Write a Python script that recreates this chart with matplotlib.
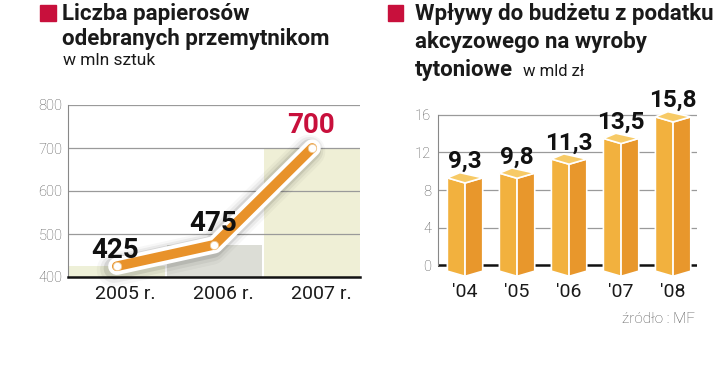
import numpy as np
import matplotlib
matplotlib.use("Agg")
import matplotlib.pyplot as plt
import matplotlib.patheffects as pe

plt.rcParams['font.family'] = ['Roboto', 'DejaVu Sans']

# left chart: cigarettes seized from smugglers (mln pcs)
years = ['2005 r.', '2006 r.', '2007 r.']
seized = [425, 475, 700]
left_ticks = [400, 500, 600, 700, 800]

# right chart: excise revenue from tobacco (bln zl)
bar_years = ["'04", "'05", "'06", "'07", "'08"]
revenue = [9.3, 9.8, 11.3, 13.5, 15.8]
right_ticks = [0, 4, 8, 12, 16]

RED = '#c8103c'
ORANGE = '#e8922a'

fig = plt.figure(figsize=(7.2, 3.84), dpi=100)

# ---------- left chart ----------
ax = fig.add_axes([68 / 720, 1 - 277 / 384, 292 / 720, 172 / 384])
x = np.arange(len(years))
band_colors = ['#eef0d8', '#dcddd6', '#efefd6']
ax.bar(x, np.array(seized) - 400, bottom=400, width=0.98, color=band_colors, zorder=1)
for t in left_ticks[1:]:
    ax.axhline(t, color='#9a9a9a', lw=0.9, zorder=2)
ax.set_xlim(-0.5, 2.49)
ax.set_ylim(400, 800)
ax.set_yticks(left_ticks)
ax.set_yticklabels([str(t) for t in left_ticks], fontsize=10.5, color='#555555', fontweight='light')
ax.set_xticks(x + 0.09)
ax.set_xticklabels(years, fontsize=14, color='#1a1a1a')
ax.tick_params(length=0, pad=4)
ax.tick_params(axis='x', pad=6)
for s in ['top', 'right']:
    ax.spines[s].set_visible(False)
ax.spines['left'].set_color('#888888')
ax.spines['left'].set_linewidth(0.8)
ax.spines['bottom'].set_color('#111111')
ax.spines['bottom'].set_linewidth(1.8)

line_fx = [
    pe.Stroke(linewidth=24, foreground='#000000', alpha=0.03, offset=(-2.5, -2.5)),
    pe.Stroke(linewidth=20, foreground='#000000', alpha=0.05, offset=(-2, -2)),
    pe.Stroke(linewidth=16, foreground='#000000', alpha=0.09, offset=(-1.5, -1.5)),
    pe.Stroke(linewidth=12.5, foreground='white'),
    pe.Normal(),
]
ax.plot(x, seized, color=ORANGE, lw=7, solid_capstyle='round', solid_joinstyle='round',
        path_effects=line_fx, zorder=4, clip_on=False)
ax.plot(x, seized, 'o', ms=6, mfc='white', mec='#f0c890', mew=0.6, zorder=5, clip_on=False)

label_offsets = [6, 10, 11]
label_colors = ['#111111', '#111111', RED]
for xi, v, off, c in zip(x, seized, label_offsets, label_colors):
    ax.annotate(str(v), (xi, v), xytext=(-1, off), textcoords='offset points',
                ha='center', va='baseline', fontsize=20, fontweight='bold', color=c, zorder=6)

# ---------- right chart ----------
ax2 = fig.add_axes([438 / 720, 1 - 271.6 / 384, 259 / 720, 166 / 384])
ax2.set_xlim(-0.52, 4.46)
ax2.set_ylim(-0.7, 17)
for t in right_ticks[1:]:
    ax2.axhline(t, color='#9a9a9a', lw=0.9, zorder=1)
ax2.axhline(0, color='#111111', lw=1.8, zorder=1)
ax2.plot([-0.52, -0.52], [0, 16], color='#888888', lw=0.8, clip_on=False, zorder=1)

w = 0.34   # face width
d = 0.55   # depth of top in value units
lo = -0.65
for i, v in enumerate(revenue):
    front = [(i - w, lo), (i, lo - d), (i, v - d), (i - w, v)]
    side = [(i, lo - d), (i + w, lo), (i + w, v), (i, v - d)]
    top = [(i - w, v), (i - 0.1, v + d), (i + w, v), (i, v - d)]
    ax2.fill(*zip(*front), facecolor='#f2b13e', edgecolor='white', lw=1.2, zorder=3, clip_on=False)
    ax2.fill(*zip(*side), facecolor='#e8972c', edgecolor='white', lw=1.2, zorder=3, clip_on=False)
    ax2.fill(*zip(*top), facecolor='#f7ca66', edgecolor='white', lw=1.2, zorder=4, clip_on=False)
    ax2.annotate(f'{v:.1f}'.replace('.', ','), (i, v), xytext=(0, 7), textcoords='offset points',
                 ha='center', va='baseline', fontsize=17.5, fontweight='bold', color='#111111', zorder=6)

ax2.set_yticks(right_ticks)
ax2.set_yticklabels([str(t) for t in right_ticks], fontsize=10.5, color='#555555', fontweight='light')
ax2.set_xticks(np.arange(len(bar_years)))
ax2.set_xticklabels(bar_years, fontsize=14, color='#1a1a1a')
ax2.tick_params(length=0, pad=5)
ax2.tick_params(axis='x', pad=8)
for s in ax2.spines.values():
    s.set_visible(False)

# ---------- titles ----------
fig.patches.append(plt.Rectangle((40 / 720, 1 - 20.5 / 384), 16 / 720, 15.5 / 384,
                                 transform=fig.transFigure, color=RED))
fig.patches.append(plt.Rectangle((388 / 720, 1 - 20.5 / 384), 15 / 720, 15.5 / 384,
                                 transform=fig.transFigure, color=RED))

tkw = dict(fontsize=16, fontweight='bold', color='#1a1a1a', va='baseline', ha='left')
fig.text(62 / 720, 1 - 20 / 384, 'Liczba papierosów', **tkw)
fig.text(62 / 720, 1 - 45 / 384, 'odebranych przemytnikom', **tkw)
fig.text(63 / 720, 1 - 65 / 384, 'w mln sztuk', fontsize=12.5, color='#1a1a1a', va='baseline')

fig.text(415 / 720, 1 - 20 / 384, 'Wpływy do budżetu z podatku', **tkw)
fig.text(415 / 720, 1 - 48 / 384, 'akcyzowego na wyroby', **tkw)
fig.text(415 / 720, 1 - 76 / 384, 'tytoniowe', **tkw)
fig.text(523 / 720, 1 - 76 / 384, 'w mld zł', fontsize=12, color='#1a1a1a', va='baseline')

fig.text(695 / 720, 1 - 323 / 384, 'źródło : MF', fontsize=11, color='#555555',
         fontweight='light', ha='right', va='baseline')

fig.savefig('out.png', dpi=100)
